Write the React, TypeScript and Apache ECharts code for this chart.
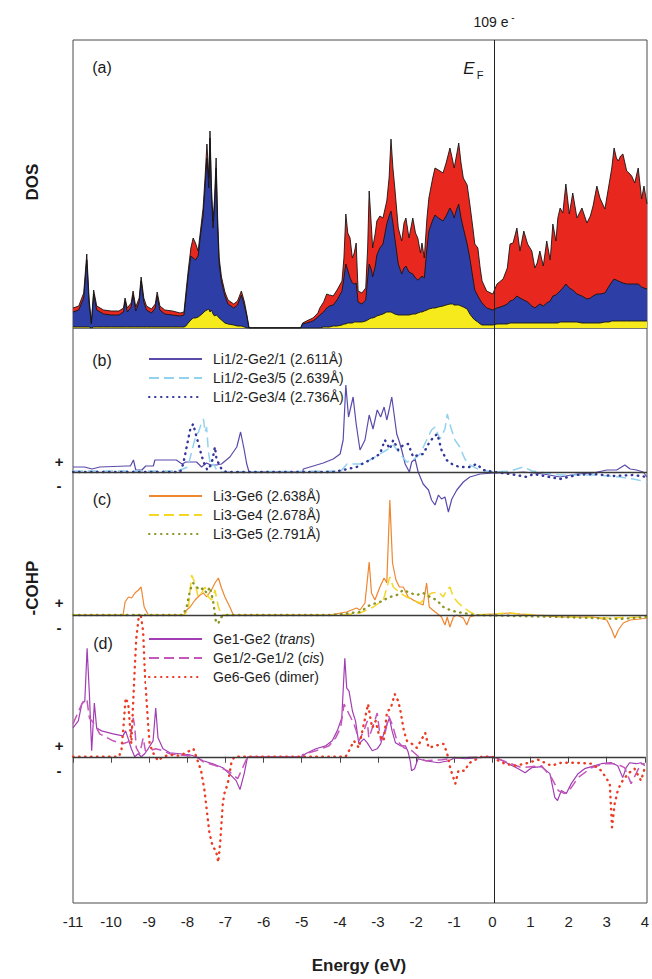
import React, { useEffect, useRef } from 'react';
import * as echarts from 'echarts';

const FONT = '"Liberation Sans", Arial, Helvetica, sans-serif';

// ---------- Panel (a): DOS (energies in eV, values in states/eV, arbitrary scale) ----------
const dosEnergy = [
  -11.0, -10.85, -10.72, -10.64, -10.58, -10.52, -10.46, -10.38, -10.2, -10.0,
  -9.8, -9.68, -9.64, -9.58, -9.48, -9.43, -9.36, -9.27, -9.22, -9.15,
  -9.08, -8.95, -8.85, -8.8, -8.73, -8.6, -8.4, -8.2, -8.1, -8.05,
  -7.99, -7.92, -7.86, -7.8, -7.73, -7.66, -7.6, -7.55, -7.5, -7.45,
  -7.42, -7.38, -7.34, -7.3, -7.26, -7.22, -7.18, -7.12, -7.03, -6.95,
  -6.8, -6.7, -6.6, -6.52, -6.45, -6.4, -5.05, -5.0, -4.9, -4.73,
  -4.6, -4.55, -4.45, -4.37, -4.3, -4.2, -4.1, -3.97, -3.92, -3.87,
  -3.82, -3.76, -3.7, -3.65, -3.6, -3.55, -3.45, -3.35, -3.3, -3.26,
  -3.2, -3.17, -3.1, -3.06, -2.98, -2.9, -2.8, -2.74, -2.69, -2.64,
  -2.59, -2.5, -2.41, -2.35, -2.3, -2.22, -2.12, -2.05, -1.99, -1.92,
  -1.88, -1.82, -1.75, -1.7, -1.6, -1.54, -1.45, -1.33, -1.25, -1.15,
  -1.08, -1.04, -0.98, -0.92, -0.86, -0.8, -0.7, -0.63, -0.55, -0.5,
  -0.42, -0.36, -0.31, -0.19, -0.03, 0.08, 0.24, 0.35, 0.42, 0.5,
  0.6, 0.68, 0.78, 0.88, 0.99, 1.07, 1.13, 1.2, 1.29, 1.38,
  1.47, 1.54, 1.62, 1.67, 1.73, 1.8, 1.88, 1.97, 2.06, 2.17,
  2.3, 2.43, 2.52, 2.59, 2.69, 2.77, 2.9, 3.01, 3.08, 3.14,
  3.2, 3.25, 3.31, 3.37, 3.47, 3.53, 3.6, 3.68, 3.77, 3.86,
  3.92, 4.0,
];

// total DOS (red, top envelope)
const dosTotal = [
  2.0, 2.2, 3.5, 7.4, 3.0, 0.5, 3.8, 2.2, 1.8, 1.7,
  1.7, 2.0, 3.0, 2.0, 2.5, 3.7, 2.1, 3.0, 5.1, 3.0,
  2.2, 1.9, 2.4, 3.6, 2.2, 1.8, 1.7, 1.5, 1.6, 3.5,
  5.7, 8.0, 9.0, 8.5, 7.7, 10.0, 12.0, 15.0, 18.4, 15.0,
  19.7, 14.0, 10.7, 13.0, 17.0, 11.0, 7.0, 5.1, 3.6, 2.8,
  2.4, 2.7, 3.7, 2.6, 1.2, 0, 0, 0.5, 0.7, 1.0,
  1.5, 2.0, 2.6, 3.4, 3.3, 3.2, 3.8, 4.7, 7.0, 11.4,
  9.5, 9.0, 7.0, 7.5, 8.5, 3.7, 3.5, 4.0, 8.0, 13.7,
  10.0, 8.0, 9.5, 10.7, 11.2, 11.0, 12.7, 15.0, 18.9, 16.0,
  14.0, 10.0, 8.7, 10.5, 11.0, 9.0, 11.0, 9.5, 9.0, 7.5,
  8.5, 7.0, 11.0, 13.0, 15.0, 16.0, 15.8, 15.5, 16.5, 18.0,
  16.8, 16.0, 17.2, 18.5, 16.5, 15.0, 14.3, 12.4, 10.0, 8.4,
  8.0, 6.0, 4.7, 3.7, 3.4, 4.4, 4.9, 6.0, 8.4, 8.5,
  10.0, 7.7, 9.7, 8.4, 7.7, 6.0, 6.5, 7.7, 6.2, 8.7,
  6.8, 10.4, 8.7, 11.0, 12.0, 11.5, 14.4, 11.4, 13.5, 11.0,
  12.0, 10.5, 11.2, 12.2, 14.2, 13.0, 11.9, 14.4, 16.0, 18.0,
  17.0, 16.7, 17.2, 17.4, 15.7, 15.5, 15.2, 14.5, 16.0, 12.9,
  14.2, 12.4,
];

// partial DOS (blue)
const dosPartial = [
  1.6, 1.8, 3.0, 6.8, 2.5, 0.4, 3.4, 1.8, 1.4, 1.3,
  1.3, 1.6, 2.7, 1.6, 2.1, 3.3, 1.7, 2.6, 4.7, 2.6,
  1.8, 1.5, 2.0, 3.2, 1.8, 1.4, 1.3, 1.2, 1.3, 3.0,
  5.2, 7.2, 7.0, 6.8, 7.2, 9.5, 11.2, 14.0, 17.0, 14.0,
  19.0, 13.0, 10.0, 12.2, 16.0, 10.0, 6.4, 4.6, 3.2, 2.4,
  2.0, 2.3, 3.3, 2.2, 1.0, 0, 0, 0.4, 0.5, 0.7,
  1.1, 1.3, 1.6, 2.0, 2.2, 2.3, 2.8, 3.7, 5.0, 6.4,
  5.8, 5.0, 4.5, 4.4, 4.5, 2.6, 2.4, 2.8, 5.0, 6.4,
  5.8, 5.1, 6.2, 7.3, 8.0, 8.4, 10.4, 11.2, 11.7, 10.5,
  9.0, 6.4, 5.4, 6.0, 6.2, 5.6, 5.4, 5.0, 4.8, 5.0,
  5.2, 5.0, 8.0, 9.7, 10.8, 11.3, 11.0, 10.7, 11.2, 12.0,
  11.5, 11.0, 11.8, 12.4, 11.0, 10.0, 8.4, 7.0, 5.0, 3.8,
  3.2, 2.8, 2.5, 2.0, 1.8, 2.0, 2.2, 2.4, 2.7, 2.8,
  3.2, 3.0, 2.8, 2.6, 2.2, 2.0, 2.2, 2.4, 2.2, 2.5,
  2.7, 3.2, 3.3, 3.5, 3.7, 4.0, 4.4, 4.0, 3.8, 3.4,
  3.2, 2.9, 3.0, 3.2, 3.4, 3.4, 3.5, 4.2, 4.6, 4.9,
  4.8, 4.7, 4.6, 4.5, 4.4, 4.4, 4.4, 4.4, 4.4, 4.1,
  4.0, 3.9,
];

// Li partial DOS (yellow)
const dosLi = [
  0.1, 0.1, 0.1, 0.1, 0.1, 0, 0.1, 0.1, 0.1, 0.1,
  0.1, 0.1, 0.1, 0.1, 0.1, 0.1, 0.1, 0.1, 0.1, 0.1,
  0.1, 0.1, 0.1, 0.1, 0.1, 0.1, 0.1, 0.1, 0.1, 0.2,
  0.5, 0.8, 1.0, 1.0, 1.1, 1.3, 1.5, 1.7, 1.8, 1.9,
  1.6, 1.8, 1.4, 1.2, 1.3, 1.2, 1.0, 0.8, 0.5, 0.4,
  0.3, 0.2, 0.2, 0.1, 0, 0, 0, 0, 0, 0,
  0, 0, 0.1, 0.1, 0.1, 0.2, 0.2, 0.3, 0.4, 0.4,
  0.5, 0.5, 0.5, 0.6, 0.6, 0.6, 0.6, 0.7, 0.8, 0.9,
  1.0, 1.0, 1.1, 1.2, 1.3, 1.4, 1.6, 1.6, 1.6, 1.5,
  1.4, 1.3, 1.3, 1.3, 1.3, 1.3, 1.4, 1.4, 1.5, 1.6,
  1.6, 1.7, 1.8, 1.9, 2.0, 2.0, 2.1, 2.2, 2.3, 2.4,
  2.4, 2.3, 2.3, 2.3, 2.2, 2.1, 1.9, 1.4, 1.0, 0.8,
  0.6, 0.4, 0.3, 0.3, 0.3, 0.4, 0.4, 0.4, 0.5, 0.5,
  0.5, 0.5, 0.5, 0.5, 0.5, 0.5, 0.5, 0.5, 0.5, 0.5,
  0.5, 0.5, 0.5, 0.5, 0.6, 0.6, 0.6, 0.6, 0.6, 0.6,
  0.5, 0.5, 0.5, 0.5, 0.5, 0.5, 0.6, 0.6, 0.7, 0.7,
  0.7, 0.7, 0.7, 0.7, 0.7, 0.7, 0.7, 0.7, 0.7, 0.7,
  0.7, 0.7,
];

// ---------- Panel (b): -COHP Li1/2-Ge ----------
const cohpLiGe21: number[][] = [
  [-11, 0.5], [-10.7, 0.5], [-10.5, 0.3], [-10.3, 0.5], [-9.6, 0.6], [-9.5, 0.6], [-9.42, 1.2], [-9.36, 0.2],
  [-9.2, 0.2], [-9.1, 0.6], [-8.9, 0.6], [-8.86, 1.2], [-8.3, 1.2], [-8.15, 0.8], [-8.05, 1.0], [-7.77, 1.0],
  [-7.64, 0.5], [-7.51, 0.9], [-7.4, 0.7], [-7.25, 0.7], [-7.12, 0.8], [-6.9, 1.5], [-6.72, 2.5], [-6.62, 4.0],
  [-6.53, 2.3], [-6.46, 0.8], [-6.4, 0], [-5.0, 0], [-4.98, 0.3], [-4.72, 0.6], [-4.46, 0.9], [-4.2, 1.3],
  [-4.02, 1.8], [-3.94, 3.2], [-3.87, 8.7], [-3.8, 5.5], [-3.68, 7.5], [-3.6, 4.8], [-3.5, 2.2], [-3.37, 3.2],
  [-3.26, 5.7], [-3.16, 4.3], [-3.05, 6.2], [-2.96, 5.5], [-2.87, 6.5], [-2.8, 5.2], [-2.74, 6.2], [-2.67, 7.5],
  [-2.61, 5.8], [-2.54, 3.8], [-2.47, 3.0], [-2.41, 2.2], [-2.32, 0.8], [-2.21, 0], [-2.15, 1.0], [-2.06, 1.3],
  [-1.98, 0], [-1.85, -1.2], [-1.71, -1.8], [-1.63, -2.8], [-1.54, -3.3], [-1.45, -2.3], [-1.37, -2.7], [-1.28, -2.5],
  [-1.19, -4.0], [-1.1, -2.7], [-0.97, -1.8], [-0.8, -1.0], [-0.63, -0.5], [-0.36, -0.2], [0, -0.1], [0.42, -0.1],
  [0.77, 0], [1.29, -0.2], [1.73, -0.5], [2.16, -0.2], [2.6, -0.1], [2.95, 0.2], [3.21, 0.2], [3.42, 0.7],
  [3.56, 0.3], [3.73, 0.2], [3.9, 0], [4.0, -0.5],
];
const cohpLiGe35: number[][] = [
  [-11, 0.1], [-8.3, 0.1], [-8.2, 0.2], [-8.0, 0.5], [-7.9, 2.0], [-7.8, 3.5], [-7.72, 4.0], [-7.65, 4.8],
  [-7.59, 5.3], [-7.55, 4.0], [-7.51, 4.5], [-7.46, 2.0], [-7.4, 0.5], [-7.33, 0.8], [-7.26, 0.3], [-7.15, 0],
  [-4.0, 0.1], [-3.84, 0.8], [-3.5, 0.8], [-3.24, 1.2], [-2.98, 1.8], [-2.8, 2.2], [-2.63, 2.7], [-2.45, 1.8],
  [-2.28, 1.0], [-2.11, 1.2], [-1.93, 1.8], [-1.76, 3.2], [-1.63, 4.2], [-1.54, 4.5], [-1.41, 3.3], [-1.28, 4.3],
  [-1.22, 5.8], [-1.13, 4.5], [-1.02, 3.2], [-0.89, 2.5], [-0.76, 1.3], [-0.63, 0.7], [-0.36, 0.2], [0, 0],
  [0.42, 0.1], [0.77, 0.5], [1.0, 0.1], [1.73, -0.3], [2.6, -0.3], [3.3, -0.5], [3.64, -0.7], [4.0, -1.0],
];
const cohpLiGe34: number[][] = [
  [-11, 0], [-8.2, 0], [-8.12, 0.8], [-8.03, 2.5], [-7.94, 4.2], [-7.86, 4.8], [-7.77, 3.5], [-7.68, 2.2],
  [-7.59, 1.0], [-7.49, 0.2], [-7.38, 0.8], [-7.29, 2.5], [-7.25, 1.3], [-7.12, 0.3], [-7.0, 0], [-4.2, 0],
  [-3.94, 0.2], [-3.59, 0.5], [-3.5, 0.7], [-3.24, 1.2], [-2.98, 1.8], [-2.85, 3.2], [-2.72, 2.3], [-2.63, 3.2],
  [-2.5, 2.2], [-2.37, 2.7], [-2.24, 2.8], [-2.11, 1.5], [-1.98, 1.7], [-1.85, 1.8], [-1.71, 2.8], [-1.58, 3.5],
  [-1.48, 3.8], [-1.37, 2.2], [-1.24, 1.2], [-1.06, 0.7], [-0.89, 0.5], [-0.63, 0.5], [-0.45, 0.8], [-0.28, 0.2],
  [0, 0], [0.42, -0.2], [0.86, -0.5], [1.03, -0.2], [1.73, -0.7], [2.16, -0.3], [2.6, -0.2], [3.12, -0.4],
  [3.64, -0.3], [4.0, -0.5],
];

// ---------- Panel (c): -COHP Li3-Ge ----------
const cohpLi3Ge6: number[][] = [
  [-11, 0], [-9.69, 0], [-9.64, 1.3], [-9.55, 1.8], [-9.47, 1.7], [-9.38, 2.2], [-9.29, 2.5], [-9.22, 2.8],
  [-9.14, 0.8], [-9.03, 0], [-8.1, 0], [-8.03, 0.5], [-7.94, 0.8], [-7.81, 1.5], [-7.68, 2.0], [-7.59, 2.2],
  [-7.51, 1.8], [-7.38, 2.5], [-7.29, 3.2], [-7.2, 3.7], [-7.12, 2.7], [-7.03, 1.8], [-6.9, 0.8], [-6.81, 0],
  [-4.3, 0], [-3.85, 0.3], [-3.59, 0.7], [-3.5, 0.5], [-3.37, 1.2], [-3.26, 5.3], [-3.2, 2.2], [-3.11, 1.5],
  [-2.98, 2.8], [-2.87, 3.7], [-2.8, 3.2], [-2.72, 11.5], [-2.65, 5.2], [-2.56, 3.5], [-2.47, 2.8], [-2.37, 2.8],
  [-2.24, 1.8], [-2.11, 1.5], [-1.98, 1.2], [-1.85, 1.0], [-1.76, 3.2], [-1.69, 0.8], [-1.6, 0.5], [-1.5, 0.2],
  [-1.37, -0.2], [-1.28, -1.0], [-1.22, -0.2], [-1.15, -1.2], [-1.06, -0.2], [-0.97, 0], [-0.8, -0.3], [-0.71, -1.0],
  [-0.63, -0.2], [-0.45, 0], [0.42, 0.2], [0.68, 0.1], [1.73, -0.2], [2.6, -0.2], [2.95, -0.5], [3.08, -1.5],
  [3.16, -2.3], [3.25, -1.5], [3.38, -0.8], [3.56, -0.5], [3.82, -0.4], [4.0, -0.3],
];
const cohpLi3Ge4: number[][] = [
  [-11, 0], [-8.1, 0], [-7.99, 0.5], [-7.9, 4.0], [-7.81, 3.2], [-7.73, 1.8], [-7.64, 2.2], [-7.55, 2.8],
  [-7.46, 1.8], [-7.38, 1.5], [-7.29, 2.5], [-7.2, 0.8], [-7.12, 0], [-3.9, 0], [-3.5, 0.2], [-3.15, 0.8],
  [-2.89, 1.5], [-2.72, 3.8], [-2.63, 2.8], [-2.45, 2.2], [-2.28, 1.8], [-2.11, 1.5], [-1.93, 1.2], [-1.76, 1.8],
  [-1.63, 2.2], [-1.45, 2.3], [-1.32, 1.8], [-1.24, 2.5], [-1.15, 2.8], [-1.06, 1.8], [-0.93, 1.2], [-0.8, 0.8],
  [-0.63, 0.3], [-0.45, 0], [0.42, 0.2], [0.68, 0.1], [2.0, -0.2], [3.0, -0.3], [4.0, -0.2],
];
const cohpLi3Ge5: number[][] = [
  [-11, 0], [-8.12, 0], [-8.03, 0.8], [-7.94, 2.5], [-7.86, 3.2], [-7.77, 2.8], [-7.68, 2.5], [-7.59, 2.7],
  [-7.51, 2.2], [-7.42, 2.8], [-7.33, 1.2], [-7.26, -0.8], [-7.2, -0.8], [-7.12, -0.2], [-6.98, 0], [-4.2, 0],
  [-3.5, 0.3], [-3.24, 1.0], [-2.98, 1.3], [-2.72, 1.8], [-2.54, 2.0], [-2.37, 2.5], [-2.19, 2.2], [-2.02, 2.0],
  [-1.85, 2.2], [-1.67, 1.8], [-1.5, 1.5], [-1.32, 0.8], [-1.15, 0.5], [-0.97, 0.3], [-0.8, 0.2], [-0.54, 0],
  [1.73, -0.2], [3.29, -0.4], [4.0, -0.2],
];

// ---------- Panel (d): -COHP Ge-Ge ----------
const cohpGeTrans: number[][] = [
  [-11, 2.9], [-10.86, 3.6], [-10.77, 5.3], [-10.69, 5.6], [-10.63, 10.9], [-10.57, 6.3], [-10.51, 0.6], [-10.44, 5.4],
  [-10.38, 2.9], [-10.25, 2.6], [-9.95, 2.3], [-9.69, 2.1], [-9.62, 2.6], [-9.55, 1.8], [-9.47, 0.8], [-9.38, 0],
  [-9.29, 0.3], [-9.21, 0], [-9.12, 0.3], [-9.03, 0.8], [-8.9, 1.6], [-8.83, 4.9], [-8.77, 1.9], [-8.64, 0.8],
  [-8.46, 0.4], [-8.2, 0.3], [-7.94, 0.2], [-7.77, 0], [-7.59, -0.4], [-7.33, -0.7], [-7.07, -1.1], [-6.9, -1.7],
  [-6.72, -2.4], [-6.62, -3.3], [-6.51, -1.7], [-6.42, 0], [-5.0, 0], [-4.9, 0.3], [-4.63, 0.8], [-4.37, 1.1],
  [-4.2, 1.6], [-4.07, 2.6], [-3.95, 3.9], [-3.87, 9.9], [-3.82, 6.9], [-3.76, 6.6], [-3.67, 4.6], [-3.59, 3.6],
  [-3.5, 1.3], [-3.37, 1.8], [-3.28, 1.4], [-3.15, 0.6], [-3.02, 0.8], [-2.93, 1.3], [-2.8, 2.9], [-2.7, 3.9],
  [-2.63, 2.6], [-2.54, 1.4], [-2.41, 1.1], [-2.28, 1.1], [-2.21, 0.5], [-2.15, -0.5], [-2.12, -1.4], [-2.04, -1.2],
  [-1.95, -0.2], [-1.76, -0.4], [-1.41, -0.6], [-1.15, -0.4], [-0.97, -0.1], [-0.71, -0.2], [-0.36, -0.1], [0, 0],
  [0.16, -0.2], [0.42, -0.7], [0.68, -1.2], [0.86, -1.6], [1.03, -1.1], [1.29, -1.0], [1.51, -1.7], [1.64, -4.1],
  [1.71, -4.4], [1.81, -3.4], [1.94, -3.7], [2.07, -2.7], [2.25, -1.7], [2.42, -1.2], [2.6, -1.0], [2.86, -0.7],
  [3.12, -0.6], [3.29, -0.9], [3.42, -2.1], [3.51, -1.1], [3.6, -0.6], [3.77, -0.7], [3.9, -0.6], [4.0, -0.9],
];
const cohpGeCis: number[][] = [
  [-11, 3.3], [-10.77, 5.3], [-10.69, 5.8], [-10.63, 5.6], [-10.57, 3.9], [-10.44, 3.3], [-10.3, 2.3], [-9.95, 1.6],
  [-9.69, 1.3], [-9.55, 1.5], [-9.47, 2.5], [-9.42, 3.9], [-9.38, 3.0], [-9.34, 0.9], [-9.25, 0.3], [-9.16, 1.9],
  [-9.1, 0.6], [-9.0, 0.6], [-8.83, 0.8], [-8.64, 0.6], [-8.46, 0.3], [-7.77, 0], [-7.59, -0.5], [-7.25, -0.9],
  [-6.9, -1.5], [-6.68, -2.2], [-6.55, -1.1], [-6.42, 0], [-5.0, 0], [-4.98, 0.2], [-4.63, 0.6], [-4.28, 1.1],
  [-4.11, 1.9], [-3.98, 2.9], [-3.89, 5.3], [-3.76, 4.3], [-3.63, 3.3], [-3.57, 2.6], [-3.5, 1.6], [-3.37, 2.6],
  [-3.28, 3.6], [-3.24, 1.9], [-3.11, 3.3], [-3.02, 4.4], [-2.93, 1.6], [-2.8, 2.6], [-2.72, 4.1], [-2.63, 3.3],
  [-2.5, 1.6], [-2.32, 0.9], [-2.11, 0.6], [-1.93, 0], [-1.76, -0.4], [-1.32, -0.3], [-0.89, -0.1], [0, 0],
  [0.42, -0.6], [0.77, -1.1], [1.29, -0.9], [1.55, -2.1], [1.73, -3.4], [1.9, -3.7], [2.07, -3.1], [2.25, -2.1],
  [2.6, -1.1], [2.95, -0.7], [3.25, -0.7], [3.47, -1.1], [3.64, -2.7], [3.77, -1.7], [3.9, -0.7], [4.0, -0.7],
];
const cohpGeDimer: number[][] = [
  [-11, 0], [-9.8, 0], [-9.73, 0.6], [-9.67, 3.3], [-9.62, 5.9], [-9.55, 5.3], [-9.51, 3.3], [-9.47, 1.3],
  [-9.44, 3.9], [-9.38, 8.9], [-9.34, 11.9], [-9.28, 13.9], [-9.22, 14.2], [-9.16, 12.6], [-9.12, 8.9], [-9.07, 5.6],
  [-9.03, 3.3], [-8.99, 1.3], [-8.9, 0.4], [-8.77, -0.4], [-8.64, 0], [-8.46, 0.2], [-8.2, 0.1], [-7.94, 0.6],
  [-7.84, 0.8], [-7.73, -0.4], [-7.64, -1.4], [-7.55, -3.4], [-7.49, -5.4], [-7.42, -7.7], [-7.33, -9.1], [-7.25, -9.4],
  [-7.19, -10.6], [-7.14, -8.7], [-7.07, -4.7], [-7.03, -3.7], [-6.94, -2.7], [-6.85, -0.7], [-6.77, 0], [-3.85, 0],
  [-3.76, 0.6], [-3.63, 1.6], [-3.5, 0.9], [-3.41, 2.6], [-3.26, 5.3], [-3.2, 3.9], [-3.15, 2.9], [-3.06, 3.6],
  [-2.98, 2.3], [-2.85, 1.6], [-2.76, 4.6], [-2.67, 4.8], [-2.56, 6.3], [-2.47, 5.6], [-2.41, 4.6], [-2.32, 2.6],
  [-2.24, 1.6], [-2.11, 1.3], [-1.98, 0.9], [-1.76, 2.4], [-1.67, 0.9], [-1.5, 1.1], [-1.28, 1.3], [-1.19, 0.4],
  [-1.1, -1.2], [-0.97, -2.7], [-0.89, -1.4], [-0.71, -1.4], [-0.63, -0.7], [-0.5, -0.4], [-0.28, 0], [0, 0],
  [0.16, -0.4], [0.33, -0.7], [0.59, -0.9], [0.86, -0.7], [1.2, -0.3], [1.55, -0.9], [1.81, -0.6], [2.16, -0.6],
  [2.6, -0.7], [2.86, -1.4], [3.08, -2.7], [3.14, -7.1], [3.21, -4.7], [3.29, -3.4], [3.38, -2.6], [3.56, -1.7],
  [3.73, -1.2], [3.9, -2.4], [4.0, -1.1],
];

// axis ranges (−COHP panels share one frame; each panel has its own zero)
const cohpRanges = [
  [-43.1, 14.4],
  [-28.8, 28.7],
  [-14.4, 43.1],
];

const seriesNamesB = ['Li1/2-Ge2/1 (2.611Å)', 'Li1/2-Ge3/5 (2.639Å)', 'Li1/2-Ge3/4 (2.736Å)'];
const seriesNamesC = ['Li3-Ge6 (2.638Å)', 'Li3-Ge4 (2.678Å)', 'Li3-Ge5 (2.791Å)'];
const seriesNamesD = ['Ge1-Ge2 (trans)', 'Ge1/2-Ge1/2 (cis)', 'Ge6-Ge6 (dimer)'];

const SOLID = 'solid';
const DASH = [10, 5];
const DOT = [0.5, 5.5];

export default function App() {
  const ref = useRef<HTMLDivElement>(null);

  useEffect(() => {
    if (!ref.current) return;
    const chart = echarts.init(ref.current, null, { renderer: 'svg' });

    const L = 73;
    const W = 574;

    const dosSeries = (name: string, vals: number[], color: string, extra: any = {}) => ({
      type: 'line',
      name,
      xAxisIndex: 0,
      yAxisIndex: 0,
      data: dosEnergy.map((e, i) => [e, vals[i]]),
      symbol: 'none',
      showSymbol: false,
      lineStyle: { color: '#151515', width: 0.9 },
      itemStyle: { color },
      areaStyle: { color, opacity: 1 },
      silent: true,
      ...extra,
    });

    const cohp = (name: string, idx: number, data: number[][], color: string, type: any, width: number, extra: any = {}) => ({
      type: 'line',
      name,
      xAxisIndex: idx,
      yAxisIndex: idx,
      data,
      symbol: 'none',
      showSymbol: false,
      lineStyle: { color, width, type, cap: type === DOT ? 'round' : 'butt' },
      itemStyle: { color },
      silent: true,
      ...extra,
    });

    const ml = (items: any[], width = 1.2, color = '#333') => ({
      markLine: {
        silent: true,
        symbol: 'none',
        label: { show: false },
        lineStyle: { color, width, type: 'solid' },
        data: items,
      },
    });

    const legendBase = (names: string[], top: number, extra: any = {}) => ({
      data: names,
      orient: 'vertical',
      left: 148,
      top,
      padding: 0,
      itemWidth: 53,
      itemHeight: 14,
      itemGap: 5,
      selectedMode: false,
      itemStyle: { opacity: 0, borderWidth: 0 },
      formatter: (n: string) => n.replace('(trans)', '({i|trans})').replace('(cis)', '({i|cis})'),
      textStyle: {
        fontFamily: FONT,
        fontSize: 14,
        color: '#1e1e1e',
        padding: [0, 0, 0, 6],
        rich: { i: { fontFamily: FONT, fontSize: 14, fontStyle: 'italic', color: '#1e1e1e' } },
      },
      ...extra,
    });

    const txt = (text: string, x: number, y: number, opts: any = {}, rotation = 0) => ({
      type: 'text',
      x,
      y,
      rotation,
      silent: true,
      z: 100,
      style: {
        text,
        fill: '#1a1a1a',
        fontFamily: FONT,
        fontSize: 15,
        align: 'center',
        verticalAlign: 'middle',
        ...opts,
      },
    });

    const option: any = {
      animation: false,
      backgroundColor: '#ffffff',
      textStyle: { fontFamily: FONT },
      grid: [
        { left: L, top: 40, width: W, height: 288, show: true, borderColor: '#4a4a4a', borderWidth: 1 },
        { left: L, top: 328, width: W, height: 575, show: true, borderColor: '#4a4a4a', borderWidth: 1 },
        { left: L, top: 328, width: W, height: 575 },
        { left: L, top: 328, width: W, height: 575 },
      ],
      xAxis: [0, 1, 2, 3].map((i) => ({
        type: 'value',
        gridIndex: i,
        min: -11,
        max: 4,
        interval: 1,
        show: i === 3,
        axisLine: { show: true, lineStyle: { color: '#4a4a4a', width: 1 } },
        axisTick: { show: true, length: 6, lineStyle: { color: '#4a4a4a' } },
        axisLabel: { color: '#1e1e1e', fontSize: 15, margin: 14, fontFamily: FONT },
        splitLine: { show: false },
        name: i === 3 ? 'Energy (eV)' : '',
        nameLocation: 'middle',
        nameGap: 57,
        nameTextStyle: { fontSize: 17, fontWeight: 'bold', color: '#1e1e1e', fontFamily: FONT },
      })),
      yAxis: [
        { type: 'value', gridIndex: 0, min: 0, max: 28.8, show: false },
        ...cohpRanges.map((r, k) => ({ type: 'value', gridIndex: k + 1, min: r[0], max: r[1], show: false })),
      ],
      legend: [
        legendBase(seriesNamesB, 352),
        legendBase(seriesNamesC, 489),
        legendBase(seriesNamesD, 630, { backgroundColor: '#ffffff', padding: [2, 6, 2, 2], left: 146 }),
      ],
      series: [
        dosSeries('Total DOS', dosTotal, '#e8281e', ml([{ xAxis: 0 }], 1, '#222')),
        dosSeries('Ge DOS', dosPartial, '#2d3fa6'),
        dosSeries('Li DOS', dosLi, '#f6ea1c'),

        cohp(seriesNamesB[0], 1, cohpLiGe21, '#5a4bab', SOLID, 1.2, ml([{ xAxis: 0 }], 1, '#222')),
        cohp(seriesNamesB[1], 1, cohpLiGe35, '#92d2ee', DASH, 1.5),
        cohp(seriesNamesB[2], 1, cohpLiGe34, '#33369a', DOT, 2.4, ml([{ yAxis: 0 }], 1.4, '#3a3a3a')),

        cohp(seriesNamesC[0], 2, cohpLi3Ge6, '#ef8630', SOLID, 1.2),
        cohp(seriesNamesC[1], 2, cohpLi3Ge4, '#f4d624', DASH, 1.5),
        cohp(seriesNamesC[2], 2, cohpLi3Ge5, '#8c9626', DOT, 2.4, ml([{ yAxis: 0 }], 1.4, '#3a3a3a')),

        cohp(seriesNamesD[0], 3, cohpGeTrans, '#a23db4', SOLID, 1.2),
        cohp(seriesNamesD[1], 3, cohpGeCis, '#c457b9', DASH, 1.5),
        cohp(seriesNamesD[2], 3, cohpGeDimer, '#ec3b22', DOT, 2.4, ml([{ yAxis: 0 }], 1.4, '#3a3a3a')),
      ],
      graphic: [
        txt('(a)', 102, 67, { fontSize: 16 }),
        txt('(b)', 102, 360, { fontSize: 16 }),
        txt('(c)', 102, 499, { fontSize: 16 }),
        txt('(d)', 103, 643, { fontSize: 16 }),
        txt('E', 469, 68, { fontSize: 17, fontStyle: 'italic' }),
        txt('F', 480, 75, { fontSize: 11 }),
        txt('109 e', 491, 22, { fontSize: 14 }),
        txt('-', 513, 17, { fontSize: 10 }),
        txt('DOS', 32, 182, { fontSize: 17, fontWeight: 'bold' }, Math.PI / 2),
        txt('-COHP', 32, 588, { fontSize: 17, fontWeight: 'bold' }, Math.PI / 2),
        txt('+', 59, 461, { fontSize: 15, fontWeight: 'bold' }),
        txt('-', 59, 485, { fontSize: 15, fontWeight: 'bold' }),
        txt('+', 59, 602, { fontSize: 15, fontWeight: 'bold' }),
        txt('-', 59, 627, { fontSize: 15, fontWeight: 'bold' }),
        txt('+', 59, 745, { fontSize: 15, fontWeight: 'bold' }),
        txt('-', 59, 770, { fontSize: 15, fontWeight: 'bold' }),
      ],
    };

    chart.setOption(option);
    return () => chart.dispose();
  }, []);

  return (
    <div
      ref={ref}
      style={{ position: 'absolute', left: 0, top: 0, width: 652, height: 979, background: '#fff' }}
    />
  );
}
